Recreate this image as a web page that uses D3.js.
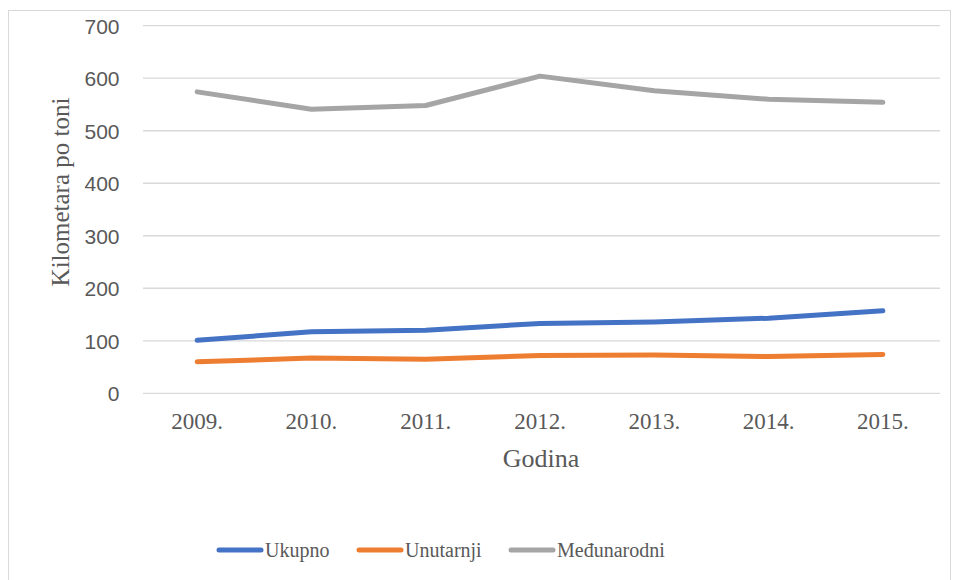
<!DOCTYPE html>
<html>
<head>
<meta charset="utf-8">
<script src="https://cdn.jsdelivr.net/npm/d3@7"></script>
<style>
  html, body { margin: 0; padding: 0; background: #fff; }
  svg { display: block; }
  .serif { font-family: "Liberation Serif", "Tinos", "Times New Roman", "DejaVu Serif", serif; }
  .sans { font-family: "Liberation Sans", Arial, sans-serif; }
</style>
</head>
<body>
<svg id="chart" width="953" height="580"></svg>
<script>
// Years on the x axis
const years = ["2009.", "2010.", "2011.", "2012.", "2013.", "2014.", "2015."];
// Kilometres per tonne, by series
const ukupno      = [101, 117, 120, 133, 136, 143, 157];
const unutarnji   = [60, 67, 65, 72, 73, 70, 74];
const medunarodni = [574, 541, 548, 604, 576, 560, 554];
const seriesNames = ["Ukupno", "Unutarnji", "Međunarodni"];
const yTicks = [0, 100, 200, 300, 400, 500, 600, 700];

const colors = ["#4472C4", "#ED7D31", "#A5A5A5"];
const seriesValues = [ukupno, unutarnji, medunarodni];

const svg = d3.select("#chart");
const plot = { left: 140, right: 940, top: 25.7, bottom: 393.3 };

// Outer chart border
svg.append("rect")
  .attr("x", 8.5).attr("y", 10.5)
  .attr("width", 942).attr("height", 600)
  .attr("fill", "#fff").attr("stroke", "#D9D9D9").attr("stroke-width", 1);

const x = d3.scaleBand().domain(years).range([plot.left, plot.right]);
const y = d3.scaleLinear().domain([0, 700]).range([plot.bottom, plot.top]);

// Horizontal gridlines
svg.append("g")
  .selectAll("line")
  .data(yTicks)
  .join("line")
  .attr("x1", plot.left + 3).attr("x2", plot.right)
  .attr("y1", d => y(d)).attr("y2", d => y(d))
  .attr("stroke", "#D9D9D9").attr("stroke-width", 1.3);

// Y axis labels
const yAxis = d3.axisLeft(y).tickValues(yTicks).tickSize(0).tickPadding(0);
const yG = svg.append("g").attr("transform", `translate(119.5,0)`).call(yAxis);
yG.select(".domain").remove();
yG.attr("font-family", null).attr("font-size", null);
yG.selectAll("text")
  .attr("class", "sans")
  .attr("font-size", 21).attr("fill", "#595959").attr("dy", "0.36em");

// X axis labels
const xAxis = d3.axisBottom(x).tickSize(0).tickPadding(0);
const xG = svg.append("g").attr("transform", `translate(0,429.3)`).call(xAxis);
xG.select(".domain").remove();
xG.attr("font-family", null).attr("font-size", null);
xG.selectAll("text")
  .attr("class", "serif")
  .attr("font-size", 23).attr("fill", "#595959").attr("dy", 0).attr("y", 0);

// Axis titles
svg.append("text")
  .attr("class", "serif")
  .attr("x", (plot.left + plot.right) / 2 + 1).attr("y", 467)
  .attr("text-anchor", "middle")
  .attr("font-size", 26).attr("fill", "#595959")
  .text("Godina");

svg.append("text")
  .attr("class", "serif")
  .attr("transform", `translate(69,192) rotate(-90)`)
  .attr("text-anchor", "middle")
  .attr("font-size", 25).attr("fill", "#595959")
  .text("Kilometara po toni");

// Series lines
const line = d3.line()
  .x((d, i) => x(years[i]) + x.bandwidth() / 2)
  .y(d => y(d));

svg.append("g")
  .selectAll("path")
  .data(seriesValues)
  .join("path")
  .attr("d", d => line(d))
  .attr("fill", "none")
  .attr("stroke", (d, i) => colors[i])
  .attr("stroke-width", 5)
  .attr("stroke-linecap", "round")
  .attr("stroke-linejoin", "round");

// Legend
const legendItems = [
  { x: 219, w: 42 },
  { x: 359, w: 42 },
  { x: 511, w: 42 }
];
const lg = svg.append("g");
seriesNames.forEach((name, i) => {
  const it = legendItems[i];
  lg.append("line")
    .attr("x1", it.x).attr("x2", it.x + it.w)
    .attr("y1", 550).attr("y2", 550)
    .attr("stroke", colors[i]).attr("stroke-width", 5)
    .attr("stroke-linecap", "round");
  lg.append("text")
    .attr("class", "serif")
    .attr("x", it.x + it.w + 4).attr("y", 557)
    .attr("font-size", 20).attr("fill", "#595959")
    .text(name);
});
</script>
</body>
</html>
